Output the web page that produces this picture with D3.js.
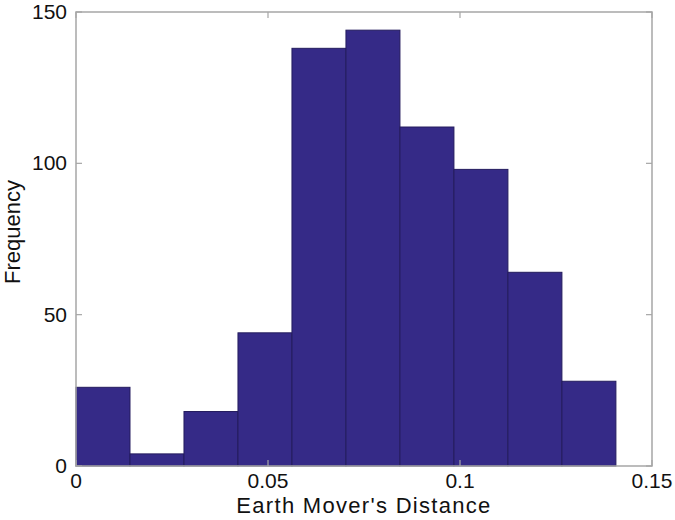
<!DOCTYPE html>
<html>
<head>
<meta charset="utf-8">
<script src="https://cdn.jsdelivr.net/npm/d3@7"></script>
<style>
  body { margin: 0; background: #fff; }
  text { font-family: "Liberation Sans", Arial, sans-serif; fill: #111; }
</style>
</head>
<body>
<div id="chart"></div>
<script>
// histogram data
const binWidth = 0.01406;
const binStarts = [0, 0.01406, 0.02812, 0.04218, 0.05624, 0.0703, 0.08436, 0.09842, 0.11248, 0.12654];
const counts = [26, 4, 18, 44, 138, 144, 112, 98, 64, 28];
const xTicks = [0, 0.05, 0.1, 0.15];
const xTickLabels = ["0", "0.05", "0.1", "0.15"];
const yTicks = [0, 50, 100, 150];

const margin = { top: 12, right: 23, bottom: 54, left: 76 },
    width = 675 - margin.left - margin.right,
    height = 520 - margin.top - margin.bottom;

const svg = d3.select("#chart")
    .append("svg")
    .attr("width", 675)
    .attr("height", 520)
    .append("g")
    .attr("transform", `translate(${margin.left},${margin.top})`);

const x = d3.scaleLinear().domain([0, 0.15]).range([0, width]);
const y = d3.scaleLinear().domain([0, 150]).range([height, 0]);

// bars
svg.selectAll("rect.bar")
    .data(counts)
    .join("rect")
    .attr("class", "bar")
    .attr("x", (d, i) => x(binStarts[i]))
    .attr("width", x(binWidth) - x(0))
    .attr("y", d => y(d))
    .attr("height", d => y(0) - y(d))
    .attr("fill", "#352a87")
    .attr("stroke", "#241c5e")
    .attr("stroke-width", 1);

// frame
svg.append("rect")
    .attr("width", width)
    .attr("height", height)
    .attr("fill", "none")
    .attr("stroke", "#a6a6a6")
    .attr("stroke-width", 1.5);

const tickLen = 6;
// x ticks (bottom and top, inward)
xTicks.forEach((t, i) => {
    svg.append("line").attr("x1", x(t)).attr("x2", x(t))
        .attr("y1", height).attr("y2", height - tickLen)
        .attr("stroke", "#a6a6a6").attr("stroke-width", 1.2);
    svg.append("line").attr("x1", x(t)).attr("x2", x(t))
        .attr("y1", 0).attr("y2", tickLen)
        .attr("stroke", "#a6a6a6").attr("stroke-width", 1.2);
    svg.append("text")
        .attr("x", x(t))
        .attr("y", height + 22)
        .attr("text-anchor", "middle")
        .style("font-size", "21px")
        .text(xTickLabels[i]);
});

// y ticks (left and right, inward)
yTicks.forEach(t => {
    svg.append("line").attr("x1", 0).attr("x2", tickLen)
        .attr("y1", y(t)).attr("y2", y(t))
        .attr("stroke", "#a6a6a6").attr("stroke-width", 1.2);
    svg.append("line").attr("x1", width).attr("x2", width - tickLen)
        .attr("y1", y(t)).attr("y2", y(t))
        .attr("stroke", "#a6a6a6").attr("stroke-width", 1.2);
    svg.append("text")
        .attr("x", -9)
        .attr("y", y(t) + 7)
        .attr("text-anchor", "end")
        .style("font-size", "21px")
        .text(t);
});

// axis labels
svg.append("text")
    .attr("x", width / 2)
    .attr("y", height + 47)
    .attr("text-anchor", "middle")
    .style("font-size", "22px")
    .style("letter-spacing", "1.3px")
    .text("Earth Mover's Distance");

svg.append("text")
    .attr("transform", `translate(${-56},${220}) rotate(-90)`)
    .attr("text-anchor", "middle")
    .style("font-size", "22px")
    .text("Frequency");
</script>
</body>
</html>
